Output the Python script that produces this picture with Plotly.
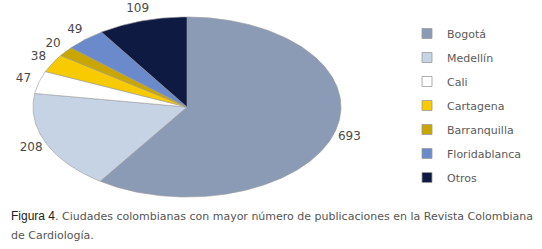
import numpy as np
import plotly.graph_objects as go

cities = ["Bogotá", "Medellín", "Cali", "Cartagena", "Barranquilla", "Floridablanca", "Otros"]
counts = [693, 208, 47, 38, 20, 49, 109]
colors = ["#8C9BB5", "#C6D3E5", "#FFFFFF", "#F7CB00", "#C9A600", "#6B8ACB", "#0E1A42"]
caption_head = "Figura 4"
caption_line1 = ". Ciudades colombianas con mayor número de publicaciones en la Revista Colombiana"
caption_line2 = "de Cardiología."

W, H = 542, 249
FONT = "DejaVu Sans"

vals = np.array(counts, dtype=float)
frac = vals / vals.sum()
ends = np.cumsum(frac) * 2 * np.pi
starts = ends - frac * 2 * np.pi

fig = go.Figure()

# slices: wedges of a unit circle, drawn clockwise from 12 o'clock
for name, s, e, c in zip(cities, starts, ends, colors):
    th = np.linspace(s, e, max(3, int(np.degrees(e - s)) + 2))
    xs = np.concatenate([[0], np.sin(th), [0]])
    ys = np.concatenate([[0], np.cos(th), [0]])
    fig.add_trace(go.Scatter(x=xs, y=ys, mode="lines", fill="toself", fillcolor=c,
                             line=dict(color="#9a9a9a", width=0.6), showlegend=False,
                             hoverinfo="skip"))

# value labels outside each slice
mid = (starts + ends) / 2
fig.add_trace(go.Scatter(x=np.sin(mid) * 1.104, y=np.cos(mid) * 1.133, mode="text",
                         text=[str(v) for v in counts], textposition="middle center",
                         textfont=dict(family=FONT, size=12, color="#4a4a4a"),
                         showlegend=False, hoverinfo="skip"))

# legend entries
for name, c in zip(cities, colors):
    fig.add_trace(go.Scatter(x=[None], y=[None], mode="markers", name=name, legendgroup=name,
                             marker=dict(symbol="square", size=10, color=c,
                                         line=dict(color="#9a9a9a", width=0.8))))

# axis ranges chosen so that the unit circle appears as the reference ellipse
cx, cy, rx, ry = 187, 107, 154, 90
fig.update_xaxes(range=[-cx / rx, (W - cx) / rx], visible=False, fixedrange=True)
fig.update_yaxes(range=[-(H - cy) / ry, cy / ry], visible=False, fixedrange=True)

fig.add_annotation(xref="paper", yref="paper", x=9 / W, y=1 - 216 / H, xanchor="left", yanchor="middle",
                   align="left", showarrow=False,
                   text=f"<span style='color:#222222;font-family:Liberation Sans;font-size:12px'>{caption_head}</span>{caption_line1}",
                   font=dict(family=FONT, size=11, color="#555555"))
fig.add_annotation(xref="paper", yref="paper", x=9 / W, y=1 - 235 / H, xanchor="left", yanchor="middle",
                   align="left", showarrow=False, text=caption_line2,
                   font=dict(family=FONT, size=11, color="#555555"))

fig.update_layout(
    width=W, height=H, margin=dict(l=0, r=0, t=0, b=0),
    paper_bgcolor="white", plot_bgcolor="white",
    showlegend=True, hovermode=False,
    legend=dict(x=407 / W, y=1 - 19 / H, xanchor="left", yanchor="top",
                font=dict(family=FONT, size=11, color="#5a5a5a"),
                tracegroupgap=5, itemwidth=30, bgcolor="rgba(0,0,0,0)"),
)

fig.write_html("out.html", config={"displayModeBar": False, "staticPlot": False},
               post_script="document.body.style.margin='0';")
